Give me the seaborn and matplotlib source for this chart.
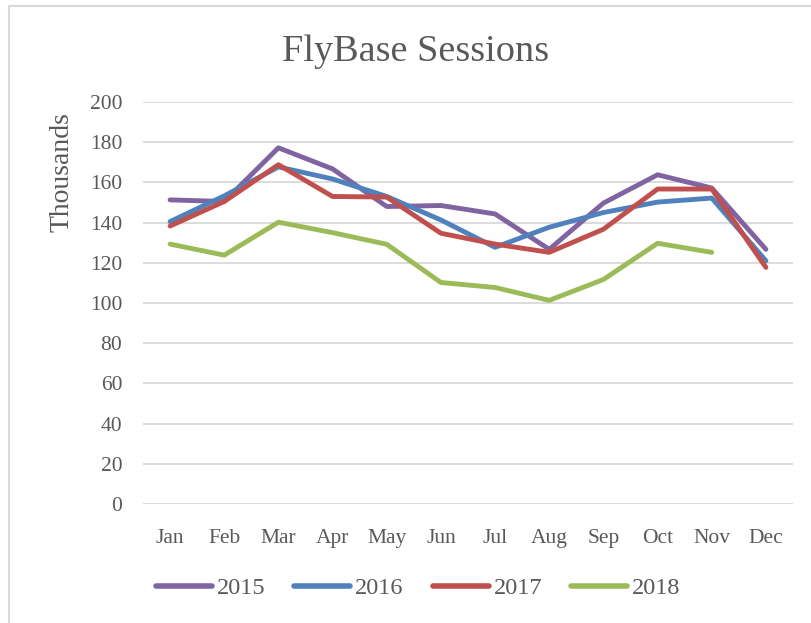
import matplotlib
matplotlib.use("Agg")
import matplotlib.pyplot as plt
import seaborn as sns
import pandas as pd
from matplotlib.lines import Line2D

months = ["Jan", "Feb", "Mar", "Apr", "May", "Jun", "Jul", "Aug", "Sep", "Oct", "Nov", "Dec"]
s2015 = [151.3, 150.5, 177.2, 166.7, 148.0, 148.5, 144.3, 126.7, 149.7, 163.8, 157.2, 126.7]
s2016 = [140.5, 153.3, 167.7, 161.7, 153.0, 141.3, 127.7, 137.7, 145.0, 150.2, 152.2, 121.0]
s2017 = [138.3, 150.5, 168.8, 153.0, 152.7, 134.7, 129.3, 125.2, 136.7, 156.7, 156.7, 117.7]
s2018 = [129.3, 123.8, 140.2, 135.0, 129.2, 110.2, 107.7, 101.3, 111.7, 129.7, 125.2, None]
series_names = ["2015", "2016", "2017", "2018"]
colors = ["#8064A2", "#4F81BD", "#C0504D", "#9BBB59"]
yticks = [0, 20, 40, 60, 80, 100, 120, 140, 160, 180, 200]

rows = []
for name, vals in zip(series_names, [s2015, s2016, s2017, s2018]):
    for i, (m, v) in enumerate(zip(months, vals)):
        if v is not None:
            rows.append({"month": m, "idx": i, "year": name, "value": v})
df = pd.DataFrame(rows)

sns.set_theme(style="white")
plt.rcParams["font.family"] = ["Liberation Serif", "DejaVu Serif"]
text_color = "#595959"

W, H = 811, 623
fig = plt.figure(figsize=(W / 100, H / 100), dpi=100)
ax = fig.add_axes([143 / W, 1 - 504 / H, (793 - 143) / W, (504 - 102) / H])

sns.lineplot(data=df, x="idx", y="value", hue="year", palette=colors,
             hue_order=series_names, linewidth=3.5, ax=ax, legend=False,
             solid_capstyle="round", solid_joinstyle="round")

ax.set_xlim(-0.5, 11.5)
ax.set_ylim(0, 200)
ax.set_yticks(yticks)
ax.set_yticklabels([str(t) for t in yticks], fontsize=15.5, color=text_color)
ax.set_xticks(range(12))
ax.set_xticklabels(months, fontsize=15.5, color=text_color)
ax.tick_params(axis="y", length=0, pad=15)
ax.tick_params(axis="x", length=0, pad=18)
ax.grid(axis="y", color="#D9D9D9", linewidth=1.3)
ax.grid(axis="x", visible=False)
for sp in ax.spines.values():
    sp.set_visible(False)
ax.set_xlabel("")
ax.set_ylabel("")

fig.text(416 / W, 1 - 52 / H, "FlyBase Sessions", ha="center", va="center",
         fontsize=27.5, color=text_color)
fig.text(62 / W, 1 - 172 / H, "Thousands", ha="center", va="center",
         rotation=90, fontsize=20, color=text_color)

handles = [Line2D([0], [0], color=c, lw=4, solid_capstyle="round") for c in colors]
leg = fig.legend(handles, series_names, loc="center", bbox_to_anchor=(418 / W, 1 - 588 / H),
                 ncol=4, frameon=False, fontsize=17.5, handlelength=2.3,
                 handletextpad=0.2, columnspacing=1.2, labelcolor=text_color)

border = Line2D([9 / W, 9 / W, 1.0], [0.0, 1 - 6 / H, 1 - 6 / H], transform=fig.transFigure,
                color="#D9D9D9", linewidth=1.5)
fig.add_artist(border)

fig.savefig("out.png", dpi=100, facecolor="white")
